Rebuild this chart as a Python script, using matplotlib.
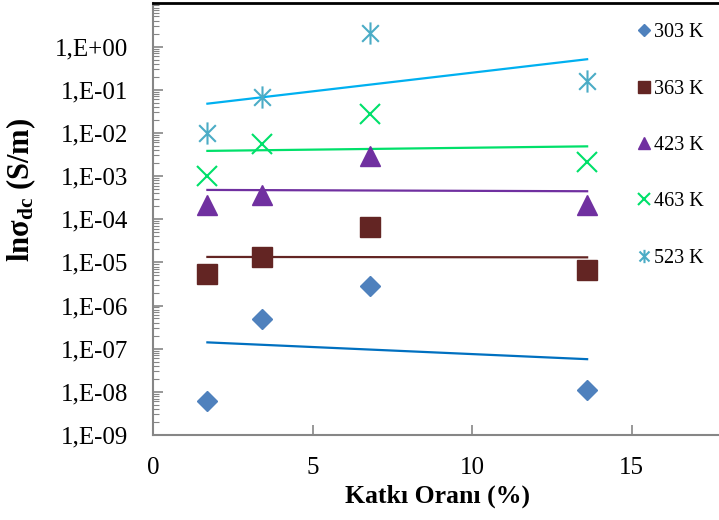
import matplotlib
matplotlib.use('Agg')
import matplotlib.pyplot as plt
import numpy as np
from matplotlib.path import Path
from matplotlib.ticker import FixedLocator, FuncFormatter, LogLocator, NullFormatter

plt.rcParams['font.family'] = ['Liberation Serif', 'DejaVu Serif']
plt.rcParams['mathtext.fontset'] = 'custom'
plt.rcParams['mathtext.rm'] = 'Liberation Serif'
plt.rcParams['mathtext.it'] = 'Liberation Serif:italic'
plt.rcParams['mathtext.bf'] = 'Liberation Serif:bold'

# doping ratio (%) and dc conductivity (S/m) at each temperature
katki = [1.7, 3.4, 6.8, 13.6]
sigma_303 = [6.2e-9, 4.9e-7, 2.8e-6, 1.1e-8]
sigma_363 = [5.4e-6, 1.32e-5, 6.5e-5, 6.6e-6]
sigma_423 = [2.1e-4, 3.6e-4, 2.9e-3, 2.1e-4]
sigma_463 = [1.0e-3, 5.5e-3, 2.7e-2, 2.1e-3]
sigma_523 = [9.8e-3, 6.6e-2, 2.1e+0, 1.55e-1]
labels = ['303 K', '363 K', '423 K', '463 K', '523 K']

# asterisk marker: vertical bar plus a cross
star = Path([(0, -1), (0, 1), (-0.75, -0.75), (0.75, 0.75), (-0.75, 0.75), (0.75, -0.75)],
            [Path.MOVETO, Path.LINETO, Path.MOVETO, Path.LINETO, Path.MOVETO, Path.LINETO])

series = [
    (sigma_303, dict(marker='D', ms=10, color='#4F81BD', mec='#4F81BD'), '#0070C0'),
    (sigma_363, dict(marker='s', ms=14, color='#632523', mec='#632523'), '#632523'),
    (sigma_423, dict(marker='^', ms=14, color='#7030A0', mec='#7030A0'), '#7030A0'),
    (sigma_463, dict(marker='x', ms=14, mew=1.5, color='#00E06A'), '#00E06A'),
    (sigma_523, dict(marker=star, ms=16, mew=1.5, color='#4BACC6'), '#00B0F0'),
]

fig = plt.figure(figsize=(7.19, 5.2), dpi=100)
ax = fig.add_axes([0.213, 0.1635, 0.79, 0.83])

x = np.array(katki)
for (vals, style, tcolor), lab in zip(series, labels):
    ax.plot(katki, vals, linestyle='none', label=lab, **style)
    # exponential trendline (straight line on log axis)
    k, b = np.polyfit(x, np.log10(vals), 1)
    xs = np.array([x.min(), x.max()])
    ax.plot(xs, 10 ** (k * xs + b), color=tcolor, lw=1.6, zorder=1)

ax.set_yscale('log')
ax.set_ylim(1e-9, 1e1)
ax.set_xlim(0, 17.8)

ax.yaxis.set_major_locator(FixedLocator([10.0 ** e for e in range(-9, 1)]))
ax.yaxis.set_major_formatter(FuncFormatter(lambda v, p: '1,E{:+03d}'.format(int(round(np.log10(v))))))
ax.yaxis.set_minor_locator(LogLocator(base=10, subs=np.arange(2, 10), numticks=20))
ax.yaxis.set_minor_formatter(NullFormatter())
ax.set_xticks([0, 5, 10, 15])

gray = '#868686'
for side in ['left', 'bottom']:
    ax.spines[side].set_color(gray)
    ax.spines[side].set_linewidth(1.5)
ax.spines['right'].set_visible(False)
ax.spines['top'].set_color('black')
ax.spines['top'].set_linewidth(2)

ax.tick_params(axis='both', which='both', direction='in', color=gray, labelsize=18)
ax.tick_params(axis='y', which='major', length=7, width=1.2, pad=18)
ax.tick_params(axis='y', which='minor', length=4, width=0.8)
ax.tick_params(axis='x', which='major', length=7, width=1.2, pad=16)

ax.set_xlabel('Katkı Oranı (%)', fontsize=18.5, fontweight='bold', labelpad=4)
ax.set_ylabel(r'ln$\mathbf{\sigma_{dc}}$ (S/m)', fontsize=22, fontweight='bold')
ax.yaxis.set_label_coords(-0.203, 0.567)

ax.legend(loc='upper left', bbox_to_anchor=(0.862, 0.99), bbox_transform=fig.transFigure,
          frameon=False, fontsize=14.5, markerscale=0.6, handlelength=0.6,
          handletextpad=0.2, labelspacing=1.85, numpoints=1)

fig.savefig('out.png', dpi=100)
